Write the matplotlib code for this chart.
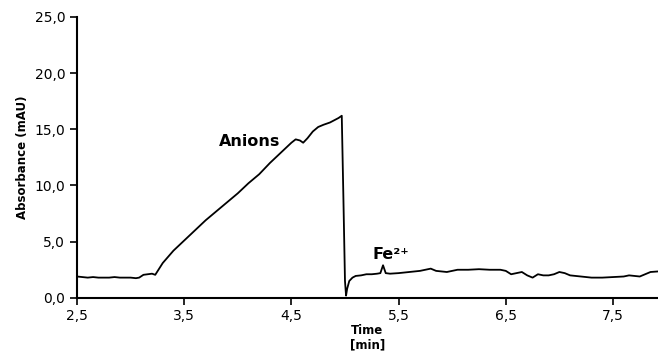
import matplotlib.pyplot as plt
from matplotlib.ticker import FuncFormatter

time = [2.50, 2.55, 2.60, 2.65, 2.70, 2.75, 2.80, 2.85, 2.90, 2.95, 3.00, 3.05,
        3.08, 3.12, 3.16, 3.20, 3.23, 3.30, 3.40, 3.50, 3.60, 3.70, 3.80, 3.90,
        4.00, 4.10, 4.20, 4.30, 4.40, 4.50, 4.54, 4.58, 4.61, 4.65, 4.70, 4.75,
        4.80, 4.86, 4.90, 4.94, 4.97, 4.985, 5.00, 5.01, 5.02, 5.04, 5.07, 5.10,
        5.15, 5.20, 5.25, 5.30, 5.33, 5.355, 5.38, 5.42, 5.50, 5.60, 5.70, 5.75,
        5.80, 5.85, 5.95, 6.05, 6.15, 6.25, 6.35, 6.45, 6.50, 6.55, 6.60, 6.65,
        6.70, 6.75, 6.80, 6.85, 6.90, 6.95, 7.00, 7.05, 7.10, 7.20, 7.30, 7.40,
        7.50, 7.60, 7.65, 7.70, 7.75, 7.80, 7.85, 7.92]
absorb = [1.9, 1.85, 1.8, 1.85, 1.8, 1.8, 1.8, 1.85, 1.8, 1.8, 1.8, 1.75,
          1.8, 2.05, 2.1, 2.15, 2.05, 3.1, 4.2, 5.1, 6.0, 6.9, 7.7, 8.5,
          9.3, 10.2, 11.0, 12.0, 12.9, 13.8, 14.1, 14.0, 13.8, 14.2, 14.8, 15.2,
          15.4, 15.6, 15.8, 16.0, 16.2, 9.0, 1.5, 0.2, 0.8, 1.5, 1.8, 1.95,
          2.0, 2.1, 2.1, 2.15, 2.2, 2.9, 2.2, 2.15, 2.2, 2.3, 2.4, 2.5,
          2.6, 2.4, 2.3, 2.5, 2.5, 2.55, 2.5, 2.5, 2.4, 2.1, 2.2, 2.3,
          2.0, 1.8, 2.1, 2.0, 2.0, 2.1, 2.3, 2.2, 2.0, 1.9, 1.8, 1.8,
          1.85, 1.9, 2.0, 1.95, 1.9, 2.1, 2.3, 2.35]

xticks = [2.5, 3.5, 4.5, 5.5, 6.5, 7.5]
yticks = [0, 5, 10, 15, 20, 25]

fig = plt.figure(figsize=(6.58, 3.58), dpi=100)
ax = fig.add_axes([0.117, 0.168, 0.883, 0.785])
ax.plot(time, absorb, color='black', lw=1.3)

ax.set_xlim(2.5, 7.92)
ax.set_ylim(0, 25)
ax.set_xticks(xticks)
ax.set_yticks(yticks)
comma = FuncFormatter(lambda v, p: f'{v:.1f}'.replace('.', ','))
ax.yaxis.set_major_formatter(comma)
ax.xaxis.set_major_formatter(comma)
ax.tick_params(direction='out', length=5, width=1.2, labelsize=10, colors='black')
ax.tick_params(axis='x', pad=3)
for s in ['top', 'right']:
    ax.spines[s].set_visible(False)
for s in ['left', 'bottom']:
    ax.spines[s].set_linewidth(1.5)

ax.set_ylabel('Absorbance (mAU)', fontsize=8.5, fontweight='bold')
ax.set_xlabel('Time\n[min]', fontsize=8.5, fontweight='bold', linespacing=1.15, labelpad=1)

ax.text(3.82, 13.5, 'Anions', fontsize=11.5, fontweight='bold')
ax.text(5.26, 3.5, 'Fe²⁺', fontsize=11.5, fontweight='bold')

fig.savefig('out.png', dpi=100)
